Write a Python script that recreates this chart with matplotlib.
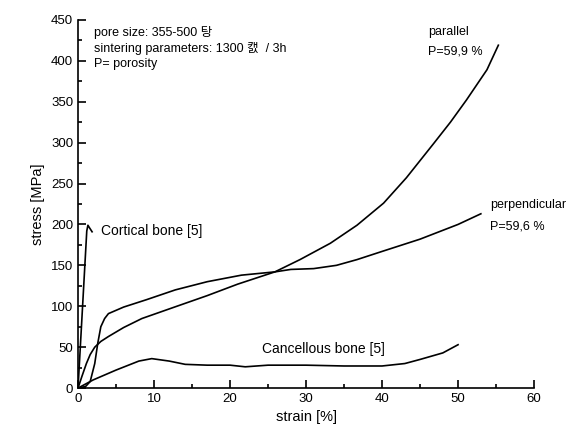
import matplotlib
matplotlib.use("Agg")
import matplotlib.pyplot as plt
from matplotlib.ticker import MultipleLocator

plt.rcParams['font.family'] = ['Liberation Sans', 'Noto Sans CJK KR', 'DejaVu Sans']

# Data
parallel_x = [0, 0.5, 1.1, 1.6, 2.2, 3, 4, 6, 8.4, 13, 17, 21, 25.9, 29.2, 33.2, 36.7, 40.2, 43.2, 46.8, 49, 51.1, 53.8, 55.3]
parallel_y = [0, 14, 30, 41, 50, 57, 63, 74, 85, 100, 113, 127, 142, 157, 177, 199, 226, 257, 299, 325, 352, 389, 419]

perp_x = [0, 1, 1.6, 2.2, 2.6, 3.0, 3.5, 4, 6, 9, 12.8, 17, 21.5, 25.9, 28, 31, 34, 36.7, 40, 45, 50, 53]
perp_y = [0, 2, 8, 30, 55, 75, 85, 91, 99, 108, 120, 130, 138, 142, 145, 146, 150, 157, 167, 182, 200, 213]

cort_x = [0, 1.15, 1.3, 1.5, 1.85]
cort_y = [0, 192, 199, 196, 191]

canc_x = [0, 2, 5, 8, 9.7, 12, 14.1, 17, 20, 22, 25, 30, 35, 40, 43, 45, 48, 50]
canc_y = [0, 10, 22, 33, 36, 33, 29, 28, 28, 26, 28, 28, 27, 27, 30, 35, 43, 53]

fig = plt.figure(figsize=(5.78, 4.41), dpi=100)
ax = fig.add_axes([0.135, 0.120, 0.789, 0.835])

for xs, ys in [(parallel_x, parallel_y), (perp_x, perp_y), (cort_x, cort_y), (canc_x, canc_y)]:
    ax.plot(xs, ys, color='black', lw=1.2, solid_joinstyle='round')

ax.set_xlim(0, 60)
ax.set_ylim(0, 450)
ax.xaxis.set_major_locator(MultipleLocator(10))
ax.xaxis.set_minor_locator(MultipleLocator(5))
ax.yaxis.set_major_locator(MultipleLocator(50))
ax.yaxis.set_minor_locator(MultipleLocator(25))
ax.tick_params(which='both', direction='in', width=1.2, labelsize=9.5)
ax.tick_params(which='major', length=6)
ax.tick_params(which='minor', length=3)
ax.spines['top'].set_visible(False)
ax.spines['right'].set_visible(False)
ax.spines['left'].set_linewidth(1.2)
ax.spines['bottom'].set_linewidth(1.2)
ax.set_xlabel('strain [%]', fontsize=10.5)
ax.set_ylabel('stress [MPa]', fontsize=10.5)

fs = 9
ax.text(2.1, 443, 'pore size: 355-500 탕', fontsize=fs, va='top')
ax.text(2.1, 423, 'sintering parameters: 1300 캜  / 3h', fontsize=fs, va='top')
ax.text(2.1, 403, 'P= porosity', fontsize=fs, va='top')
ax.text(46.0, 435, 'parallel', fontsize=fs, va='center')
ax.text(46.0, 411, 'P=59,9 %', fontsize=fs, va='center')
ax.text(54.2, 224, 'perpendicular', fontsize=fs, va='center', clip_on=False)
ax.text(54.2, 198, 'P=59,6 %', fontsize=fs, va='center', clip_on=False)
ax.text(3.0, 192, 'Cortical bone [5]', fontsize=10, va='center')
ax.text(24.2, 48, 'Cancellous bone [5]', fontsize=10, va='center')

fig.savefig('out.png', dpi=100)
